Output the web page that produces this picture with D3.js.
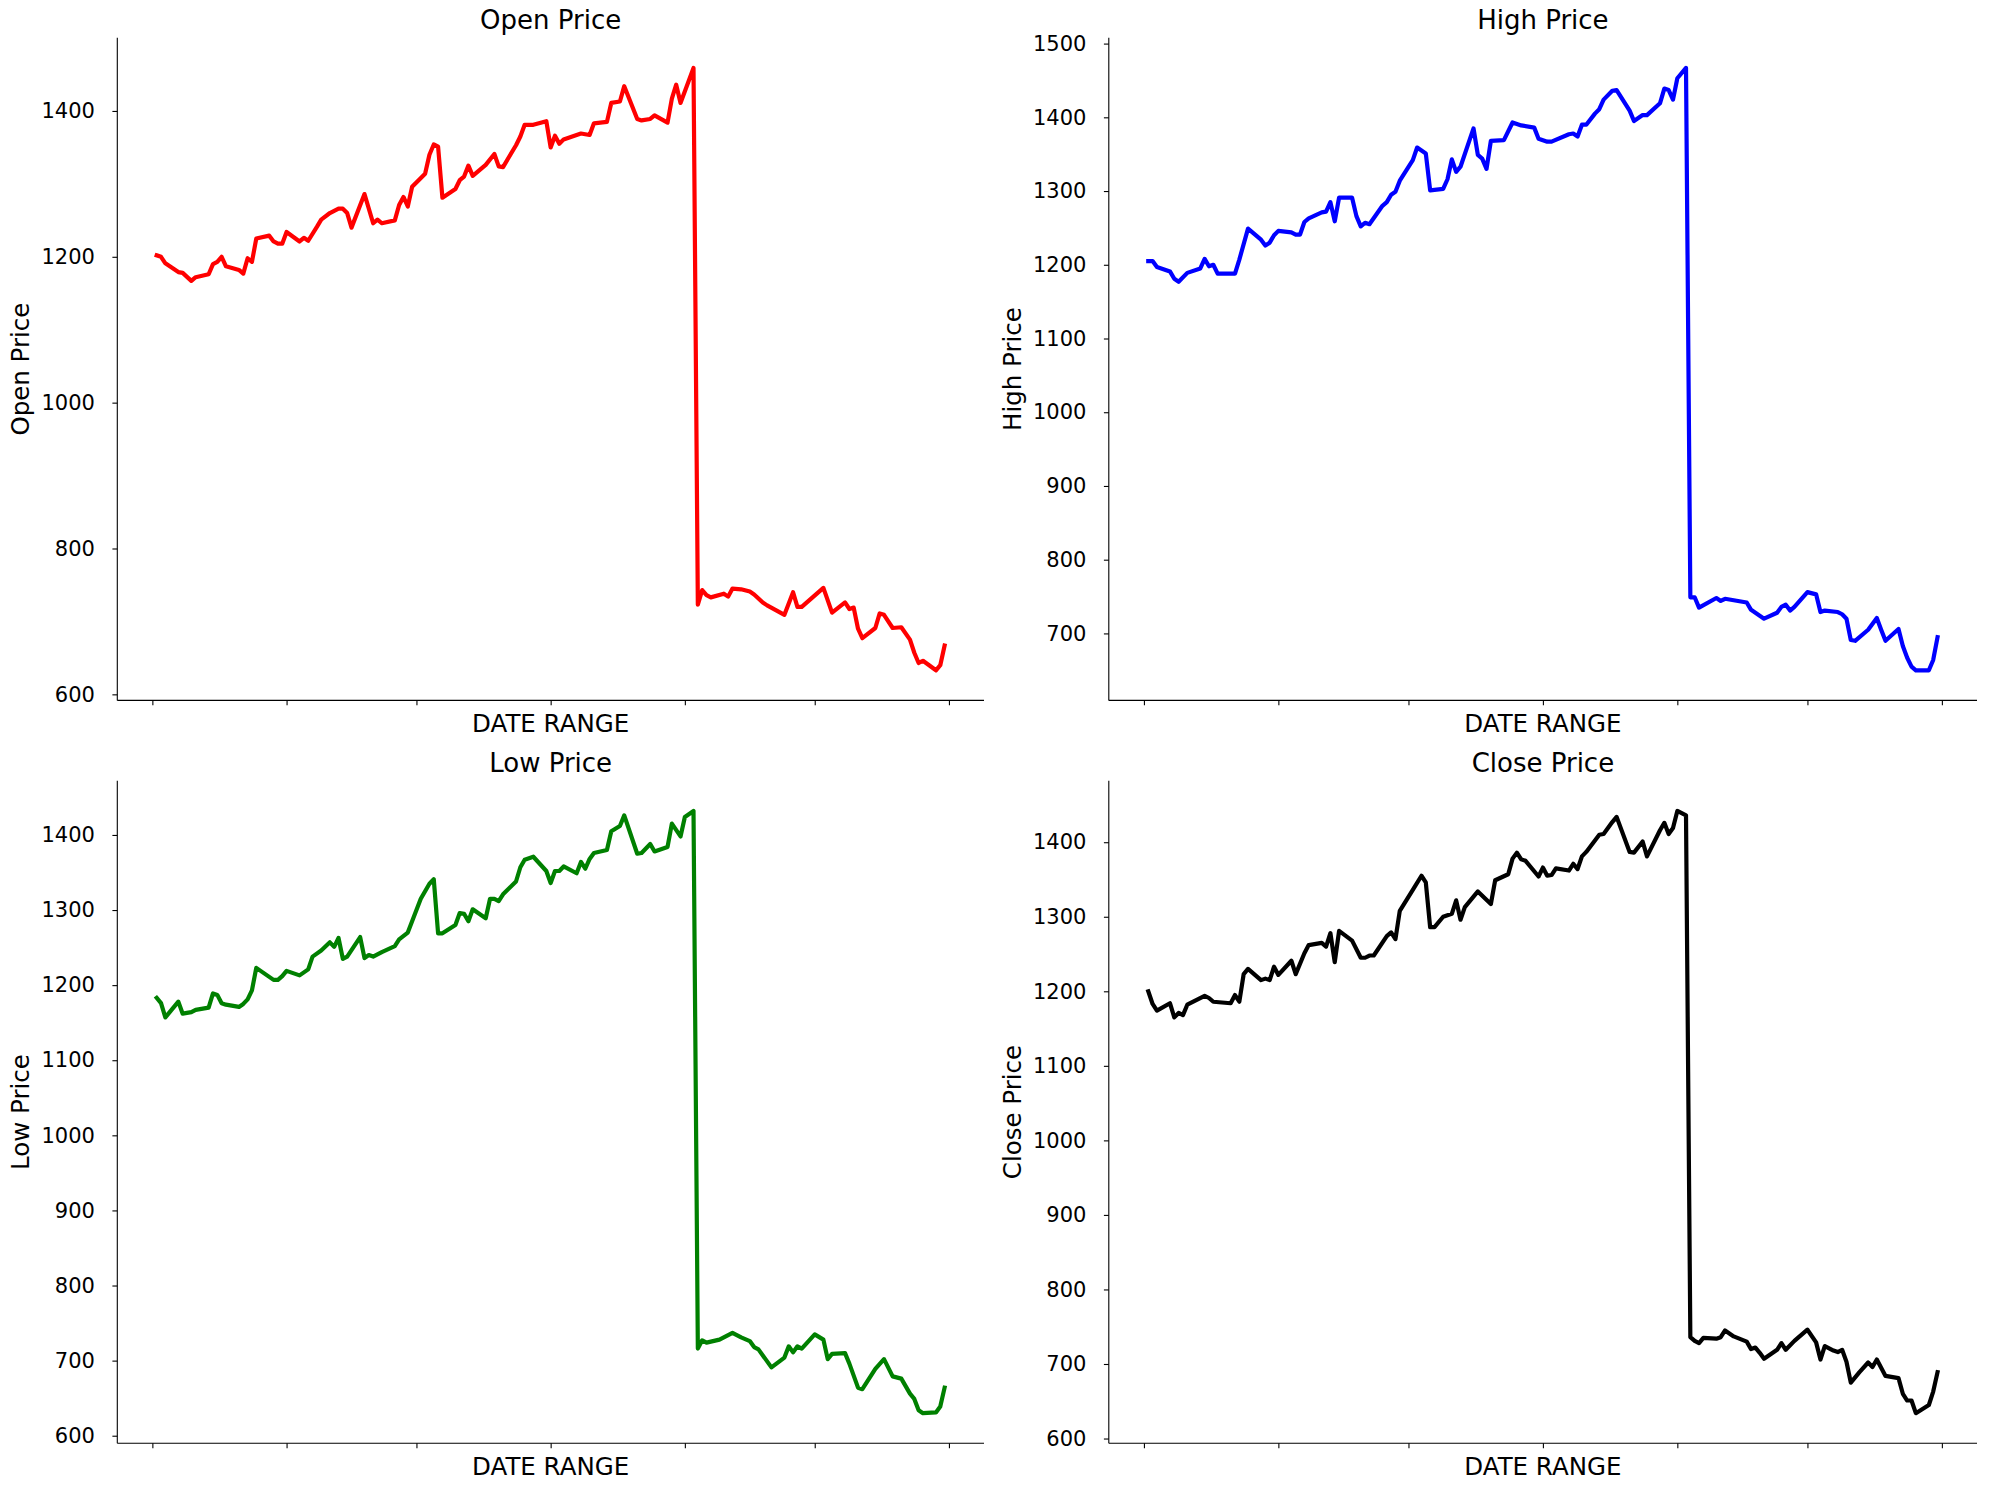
<!DOCTYPE html>
<html>
<head>
<meta charset="utf-8">
<script src="https://cdn.jsdelivr.net/npm/d3@7"></script>
<style>
  html, body { margin: 0; padding: 0; background: #ffffff; }
  svg { display: block; }
  text { font-family: "DejaVu Sans", "Liberation Sans", sans-serif; fill: #000; }
</style>
</head>
<body>
<svg id="chart" width="1990" height="1490"></svg>
<script>
// ---- DATA (day offsets from 1 May) ----
const openDays = [1,2,3,6,7,9,10,13,14,15,16,17,20,21,22,23,24,27,28,29,30,31,34,35,36,38,39,41,43,44,45,46,49,51,52,53,56,57,58,59,60,63,64,65,66,67,70,71,72,73,74,77,79,80,81,84,85,86,88,91,92,93,94,95,99,101,102,105,106,108,109,112,113,115,116,119,120,121,122,125,
  126,127,128,129,132,133,134,136,138,139,141,142,146,148,149,150,155,157,160,161,162,163,164,167,168,169,171,173,175,176,177,178,181,182,183];
const openValues = [1202,1200,1191,1179,1178,1167,1172,1176,1190,1193,1200,1187,1182,1177,1198,1193,1225,1229,1221,1218,1218,1234,1221,1226,1222,1241,1251,1260,1266,1266,1260,1240,1286,1246,1251,1246,1250,1271,1282,1269,1296,1314,1340,1354,1351,1281,1293,1305,1310,1325,1311,1326,1341,1324,1323,1353,1365,1381,1381,1386,1350,1366,1355,1361,1369,1367,1383,1385,1411,1413,1434,1389,1387,1389,1394,1384,1417,1436,1411,1459,
  723,743,736,733,738,734,745,744,741,737,726,722,709,740,720,720,746,712,726,717,719,690,677,691,711,709,691,692,675,657,643,646,633,640,667];

const highDays = [1,2,3,6,7,8,10,13,14,15,16,17,21,22,24,27,28,29,30,31,34,35,36,37,38,41,42,43,44,45,48,49,50,51,52,55,56,57,58,59,62,63,65,66,69,70,71,72,73,76,77,78,79,80,83,85,87,90,91,93,94,98,99,100,101,102,104,105,106,108,109,112,113,115,116,119,120,121,122,123,125,
  126,127,128,132,133,134,136,139,140,143,146,147,148,149,150,153,155,156,157,160,161,162,163,164,167,169,170,171,174,175,176,177,178,181,182,183];
const highValues = [1205,1205,1197,1191,1181,1177,1189,1195,1208,1198,1200,1188,1188,1207,1249,1234,1226,1230,1240,1246,1244,1241,1241,1258,1263,1271,1272,1285,1259,1291,1291,1266,1252,1257,1255,1280,1285,1295,1299,1314,1342,1359,1351,1301,1303,1316,1343,1326,1333,1385,1349,1344,1330,1368,1369,1393,1389,1386,1371,1367,1367,1377,1378,1374,1390,1390,1405,1411,1424,1436,1437,1409,1395,1403,1403,1419,1439,1437,1424,1453,1467,
  749,749,735,748,744,747,745,742,732,720,728,736,739,731,736,756,753,729,731,729,726,720,691,690,705,721,705,690,706,683,667,655,650,650,664,695];

const lowDays = [1,2,3,6,7,9,10,13,14,15,16,17,20,21,22,23,24,28,29,30,31,34,36,37,39,41,42,43,44,45,48,49,50,51,53,56,57,59,60,62,64,65,66,67,70,71,72,73,74,77,78,79,80,81,84,85,86,88,91,92,93,94,95,98,99,100,101,102,105,106,108,109,112,113,115,116,119,120,122,123,125,
  126,127,128,131,132,134,136,138,139,140,143,146,147,148,149,150,153,155,156,157,160,161,163,164,167,169,171,173,175,176,177,178,181,182,183];
const lowValues = [1183,1176,1157,1178,1162,1164,1167,1170,1189,1187,1176,1174,1171,1175,1181,1193,1223,1207,1207,1212,1219,1213,1221,1238,1246,1257,1251,1263,1235,1238,1264,1236,1240,1238,1244,1252,1261,1270,1285,1315,1335,1341,1269,1269,1280,1296,1295,1285,1301,1289,1315,1315,1312,1321,1338,1357,1367,1371,1352,1336,1352,1352,1358,1349,1364,1355,1368,1376,1380,1405,1412,1426,1375,1376,1388,1378,1384,1415,1398,1424,1432,
  716,727,724,728,731,737,731,726,718,715,691,704,719,711,719,716,735,728,702,709,710,696,664,662,689,702,679,676,656,649,634,630,631,639,664];

const closeDays = [1,2,3,6,7,8,9,10,14,15,16,20,21,22,23,24,27,28,29,30,31,34,35,37,38,41,42,43,44,45,48,50,51,52,53,56,57,58,59,62,64,65,66,67,69,71,72,73,74,77,80,81,84,85,86,87,88,91,92,93,94,95,98,99,100,101,102,105,106,108,109,112,113,115,116,119,120,121,122,123,125,
  126,127,128,129,132,133,134,136,139,140,141,142,143,146,147,148,150,153,155,156,157,159,160,161,162,163,165,167,168,169,171,174,175,176,177,178,181,182,183];
const closeValues = [1200,1183,1174,1184,1165,1171,1168,1182,1194,1191,1186,1184,1195,1186,1223,1230,1215,1217,1215,1233,1222,1241,1223,1251,1262,1265,1260,1278,1239,1281,1268,1245,1245,1248,1248,1274,1279,1270,1308,1336,1355,1346,1286,1286,1300,1304,1322,1296,1313,1334,1317,1349,1357,1378,1386,1377,1375,1354,1366,1355,1356,1365,1362,1371,1364,1381,1387,1410,1411,1427,1434,1387,1386,1401,1381,1416,1426,1411,1419,1442,1436,
  736,731,728,735,734,736,745,737,730,720,722,715,707,719,728,719,731,746,729,706,724,718,716,719,703,675,689,702,696,706,684,681,660,651,651,634,645,663,689];

// month-start ticks (day offsets), unlabeled in the reference
const xTickDays = [0,31,61,92,123,153,184];
const openTicks  = [600,800,1000,1200,1400];
const highTicks  = [700,800,900,1000,1100,1200,1300,1400,1500];
const lowTicks   = [600,700,800,900,1000,1100,1200,1300,1400];
const closeTicks = [600,700,800,900,1000,1100,1200,1300,1400];
const titles = ["Open Price","High Price","Low Price","Close Price"];
const yLabels = ["Open Price","High Price","Low Price","Close Price"];
const xLabel = "DATE RANGE";
const colors = ["#ff0000","#0000ff","#008000","#000000"];

// ---- LAYOUT ----
const boxes = [
  {x0:117.3, x1:984,  y0:37.8,  y1:700.4},
  {x0:1108.8,x1:1977, y0:37.8,  y1:700.4},
  {x0:117.3, x1:984,  y0:780.8, y1:1443.3},
  {x0:1108.8,x1:1977, y0:780.8, y1:1443.3}
];
const series = [
  {days:openDays,  values:openValues,  ticks:openTicks},
  {days:highDays,  values:highValues,  ticks:highTicks},
  {days:lowDays,   values:lowValues,   ticks:lowTicks},
  {days:closeDays, values:closeValues, ticks:closeTicks}
];

function padded(ext){ const r = ext[1]-ext[0]; return [ext[0]-0.05*r, ext[1]+0.05*r]; }

const svg = d3.select("#chart");

series.forEach((s, i) => {
  const b = boxes[i];
  const data = s.days.map((d, k) => ({d, v: s.values[k]}));
  const x = d3.scaleLinear().domain(padded(d3.extent(s.days))).range([b.x0, b.x1]);
  const y = d3.scaleLinear().domain(padded(d3.extent(s.values))).range([b.y1, b.y0]);
  const g = svg.append("g");

  // y axis
  const ya = g.append("g").attr("transform", `translate(${b.x0},0)`)
    .call(d3.axisLeft(y).tickValues(s.ticks).tickFormat(d3.format("d"))
      .tickSize(4.9).tickSizeOuter(0).tickPadding(17.5));
  ya.select(".domain").attr("stroke","#000").attr("stroke-width",1.1)
    .attr("d", `M0,${b.y0}V${b.y1}`);
  ya.selectAll(".tick line").attr("stroke","#000").attr("stroke-width",1.1);
  ya.selectAll(".tick text").attr("font-size","21px")
    .attr("font-family",'"DejaVu Sans", sans-serif').attr("fill","#000");

  // x axis
  const xa = g.append("g").attr("transform", `translate(0,${b.y1})`)
    .call(d3.axisBottom(x).tickValues(xTickDays).tickFormat("")
      .tickSize(4.9).tickSizeOuter(0));
  xa.select(".domain").attr("stroke","#000").attr("stroke-width",1.1)
    .attr("d", `M${b.x0},0H${b.x1}`);
  xa.selectAll(".tick line").attr("stroke","#000").attr("stroke-width",1.1);

  // line
  const line = d3.line().x(p => x(p.d)).y(p => y(p.v));
  g.append("path").datum(data)
    .attr("fill","none").attr("stroke", colors[i]).attr("stroke-width",4.2)
    .attr("stroke-linejoin","round").attr("stroke-linecap","square")
    .attr("d", line);

  // title
  g.append("text").attr("x",(b.x0+b.x1)/2).attr("y",b.y0-9)
    .attr("text-anchor","middle").attr("font-size","26px").text(titles[i]);
  // x label
  g.append("text").attr("x",(b.x0+b.x1)/2).attr("y",b.y1+31.5)
    .attr("text-anchor","middle").attr("font-size","24.5px").text(xLabel);
  // y label
  g.append("text")
    .attr("transform", `translate(${b.x0-88},${(b.y0+b.y1)/2}) rotate(-90)`)
    .attr("text-anchor","middle").attr("font-size","24.5px").text(yLabels[i]);
});
</script>
</body>
</html>
